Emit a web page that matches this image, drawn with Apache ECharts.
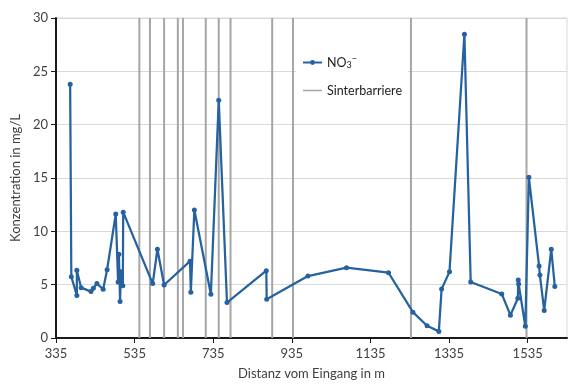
<!DOCTYPE html>
<html>
<head>
<meta charset="utf-8">
<title>NO3 Konzentration</title>
<script src="https://cdn.jsdelivr.net/npm/echarts@6/dist/echarts.min.js"></script>
<style>
  html, body { margin: 0; padding: 0; background: #fff; }
  #chart { width: 569px; height: 385px; }
</style>
</head>
<body>
<div id="chart"></div>
<script>
// Distanz vom Eingang (m) und NO3- Konzentration (mg/L), in Messreihenfolge
var distances = [
  371, 374, 388, 388, 399, 424, 430, 439, 455, 465, 487,
  493, 495, 498, 500, 501, 505, 506,
  581, 593, 610, 676, 678, 687, 729, 749, 770,
  870, 871, 976, 1074, 1181, 1243, 1279, 1309, 1316, 1336, 1374, 1390,
  1469, 1491, 1510, 1511, 1512, 1529, 1538, 1564, 1566, 1577, 1595, 1604
];
var nitrate = [
  23.8, 5.75, 3.98, 6.34, 4.72, 4.35, 4.66, 5.1, 4.57, 6.4, 11.62,
  5.24, 7.86, 3.42, 6.2, 5.4, 4.91, 11.8,
  5.1, 8.32, 4.97, 7.2, 4.29, 12.0, 4.1, 22.3, 3.32,
  6.31, 3.63, 5.81, 6.59, 6.12, 2.42, 1.15, 0.62, 4.6, 6.2, 28.48, 5.25,
  4.13, 2.14, 3.73, 5.43, 5.06, 1.09, 15.06, 6.74, 5.9, 2.58, 8.32, 4.82
];
// Lage der Sinterbarrieren (m)
var barriers = [547, 574, 610, 645, 658, 716, 749, 779, 885, 938, 1238, 1532];
var xTicks = [335, 535, 735, 935, 1135, 1335, 1535];

(function () {
  var textColor = '#404040';
  var font = 'Lato, "Noto Sans", sans-serif';

  function pairs(xs, ys) {
    return xs.map(function (x, i) { return [x, ys[i]]; });
  }

  // jede Barriere als senkrechte Linie von 0 bis 30, getrennt durch Lücken
  function barrierLines(list) {
    var out = [];
    list.forEach(function (b) {
      out.push([b, 0], [b, 30], [b, '-']);
    });
    return out;
  }

  var chart = echarts.init(document.getElementById('chart'), null, { renderer: 'canvas' });
  chart.setOption({
    animation: false,
    textStyle: { fontFamily: font },
    grid: {
      left: 56, right: 2, top: 18, bottom: 45,
      show: true, borderColor: '#d9d9d9', borderWidth: 1
    },
    legend: {
      orient: 'vertical',
      left: 296,
      top: 49,
      padding: [6, 6, 6, 6],
      backgroundColor: '#ffffff',
      itemWidth: 19,
      itemHeight: 6,
      itemGap: 14,
      textStyle: {
        color: '#222',
        fontSize: 12.5,
        fontFamily: font,
        rich: {
          sub: { fontSize: 9, verticalAlign: 'bottom', padding: [5, 0, 0, 0], color: '#222' },
          sup: { fontSize: 9, verticalAlign: 'top', padding: [0, 0, 6, 0], color: '#222' }
        }
      },
      formatter: function (name) {
        return name === 'NO3' ? 'NO{sub|3}{sup|−}' : name;
      },
      data: [
        { name: 'NO3' },
        { name: 'Sinterbarriere', itemStyle: { opacity: 0 }, lineStyle: { width: 1.5 } }
      ]
    },
    xAxis: {
      type: 'value',
      min: 335,
      max: 1635,
      name: 'Distanz vom Eingang in m',
      nameLocation: 'middle',
      nameGap: 29,
      nameTextStyle: { color: textColor, fontSize: 13, fontFamily: font },
      axisLine: { show: true, onZero: false, lineStyle: { color: '#1a1a1a', width: 2 } },
      axisTick: { show: true, length: 5, customValues: xTicks, lineStyle: { color: '#1a1a1a', width: 1 } },
      axisLabel: {
        customValues: xTicks,
        color: textColor,
        fontSize: 13,
        margin: 9,
        fontFamily: font,
        formatter: function (v) { return String(v); }
      },
      splitLine: { show: false }
    },
    yAxis: {
      type: 'value',
      min: 0,
      max: 30,
      interval: 5,
      name: 'Konzentration in mg/L',
      nameLocation: 'middle',
      nameGap: 30,
      nameTextStyle: { color: textColor, fontSize: 13, fontFamily: font },
      axisLine: { show: true, lineStyle: { color: '#1a1a1a', width: 2 } },
      axisTick: { show: true, length: 5, lineStyle: { color: '#1a1a1a', width: 1 } },
      axisLabel: { color: textColor, fontSize: 13, margin: 8, fontFamily: font },
      splitLine: { show: true, lineStyle: { color: '#d9d9d9', width: 1 } }
    },
    series: [
      {
        name: 'Sinterbarriere',
        type: 'line',
        data: barrierLines(barriers),
        connectNulls: false,
        symbol: 'none',
        showSymbol: false,
        silent: true,
        z: 1,
        lineStyle: { color: '#a6a6a6', width: 2 },
        itemStyle: { color: '#a6a6a6' }
      },
      {
        name: 'NO3',
        type: 'line',
        data: pairs(distances, nitrate),
        symbol: 'circle',
        symbolSize: 5,
        z: 3,
        lineStyle: { color: '#25629f', width: 2.25 },
        itemStyle: { color: '#25629f' }
      }
    ]
  });
})();
</script>
</body>
</html>
